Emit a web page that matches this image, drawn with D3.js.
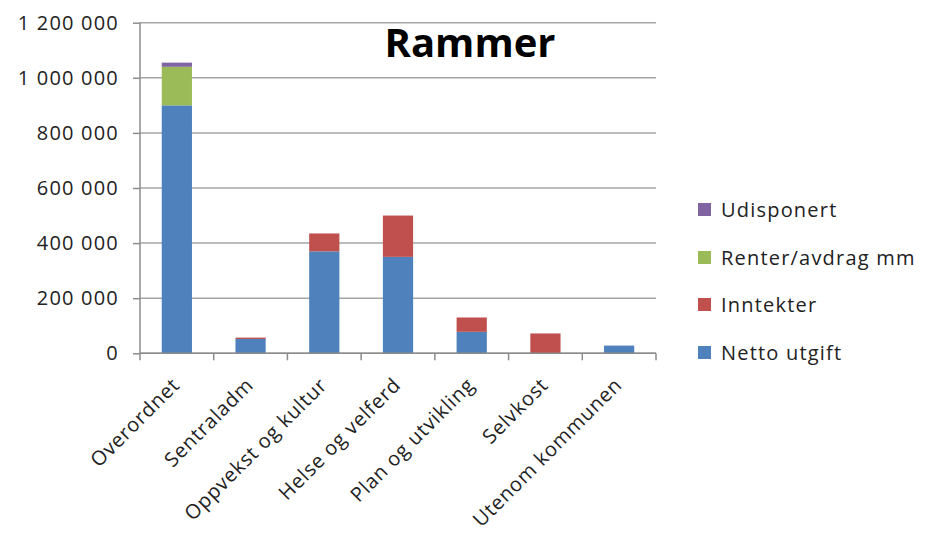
<!DOCTYPE html>
<html><head><meta charset="utf-8">
<script src="https://cdn.jsdelivr.net/npm/d3@7"></script>
<style>body{margin:0;background:#fff;} svg{display:block;}</style>
</head><body>
<svg id="c" width="926" height="545"></svg>
<script>
const categories = ["Overordnet","Sentraladm","Oppvekst og kultur","Helse og velferd","Plan og utvikling","Selvkost","Utenom kommunen"];
const nettoUtgift = [900000, 52000, 370000, 350000, 78000, 0, 28000];
const inntekter   = [0, 5000, 65000, 150000, 52000, 72000, 0];
const renterAvdrag= [140000, 0, 0, 0, 0, 0, 0];
const udisponert  = [15000, 0, 0, 0, 0, 0, 0];
const seriesNames = ["Netto utgift","Inntekter","Renter/avdrag mm","Udisponert"];
const seriesColors = ["#4F81BD","#C0504D","#9BBB59","#8064A2"];
const yTicks = [0,200000,400000,600000,800000,1000000,1200000];
const title = "Rammer";

const svg = d3.select("#c");
const font = "'Open Sans', sans-serif";
const x0 = 140, x1 = 656, yTop = 22.7, yBot = 353.3;
const x = d3.scaleBand().domain(categories).range([x0, x1]).paddingInner(0.59).paddingOuter(0.295);
const y = d3.scaleLinear().domain([0, 1200000]).range([yBot, yTop]);

const table = categories.map((c,i)=>({cat:c, "Netto utgift":nettoUtgift[i], "Inntekter":inntekter[i], "Renter/avdrag mm":renterAvdrag[i], "Udisponert":udisponert[i]}));
const stack = d3.stack().keys(seriesNames)(table);

// gridlines
svg.append("g").selectAll("line").data(yTicks).join("line")
  .attr("x1", x0).attr("x2", x1).attr("y1", d=>y(d)).attr("y2", d=>y(d))
  .attr("stroke", "#a6a6a6").attr("stroke-width", 1.5);

// bars
svg.append("g").selectAll("g").data(stack).join("g")
  .attr("fill", (d,i)=>seriesColors[i])
  .selectAll("rect").data(d=>d.filter(v=>v[1]-v[0]>0)).join("rect")
  .attr("x", d=>x(d.data.cat)).attr("width", x.bandwidth())
  .attr("y", d=>y(d[1])).attr("height", d=>y(d[0])-y(d[1]));

// y axis
const ya = svg.append("g").attr("transform", `translate(${x0},0)`)
  .call(d3.axisLeft(y).tickValues(yTicks).tickSize(7).tickPadding(14)
    .tickFormat(d=>d3.format(",")(d).replace(/,/g," ")));
ya.selectAll("path,line").attr("stroke","#8c8c8c").attr("stroke-width",1.5);
ya.select(".domain").attr("d", `M-0,${yTop}V${yBot}`);
ya.selectAll("text").attr("font-family", font).attr("font-size", 20).attr("letter-spacing", 1.2).attr("fill","#222");

// x axis
const bounds = d3.range(categories.length+1).map(i=>x0 + i*(x1-x0)/categories.length);
const xa = svg.append("g");
xa.append("line").attr("x1",x0).attr("x2",x1).attr("y1",yBot).attr("y2",yBot).attr("stroke","#8c8c8c").attr("stroke-width",1.5);
xa.selectAll("line.t").data(bounds).join("line").attr("class","t")
  .attr("x1",d=>d).attr("x2",d=>d).attr("y1",yBot).attr("y2",yBot+7).attr("stroke","#8c8c8c").attr("stroke-width",1.5);
xa.selectAll("text").data(categories).join("text")
  .attr("transform", d=>`translate(${x(d)+x.bandwidth()/2+4},${yBot+33}) rotate(-45)`)
  .attr("text-anchor","end").attr("font-family",font).attr("font-size",20).attr("letter-spacing",0.8).attr("fill","#222")
  .text(d=>d);

// title
svg.append("text").attr("x",470).attr("y",57).attr("text-anchor","middle")
  .attr("font-family",font).attr("font-weight","bold").attr("font-size",40).attr("fill","#000").text(title);

// legend (reversed order)
const legY = [210, 258, 305, 353];
const legItems = seriesNames.map((n,i)=>({n, c:seriesColors[i]})).reverse();
const lg = svg.append("g").selectAll("g").data(legItems).join("g")
  .attr("transform",(d,i)=>`translate(698,${legY[i]})`);
lg.append("rect").attr("x",0).attr("y",-7).attr("width",13).attr("height",13).attr("fill",d=>d.c);
lg.append("text").attr("x",23).attr("y",0).attr("dy","0.35em").attr("font-family",font).attr("font-size",20).attr("letter-spacing",1.2).attr("fill","#222").text(d=>d.n);
</script>
</body></html>
